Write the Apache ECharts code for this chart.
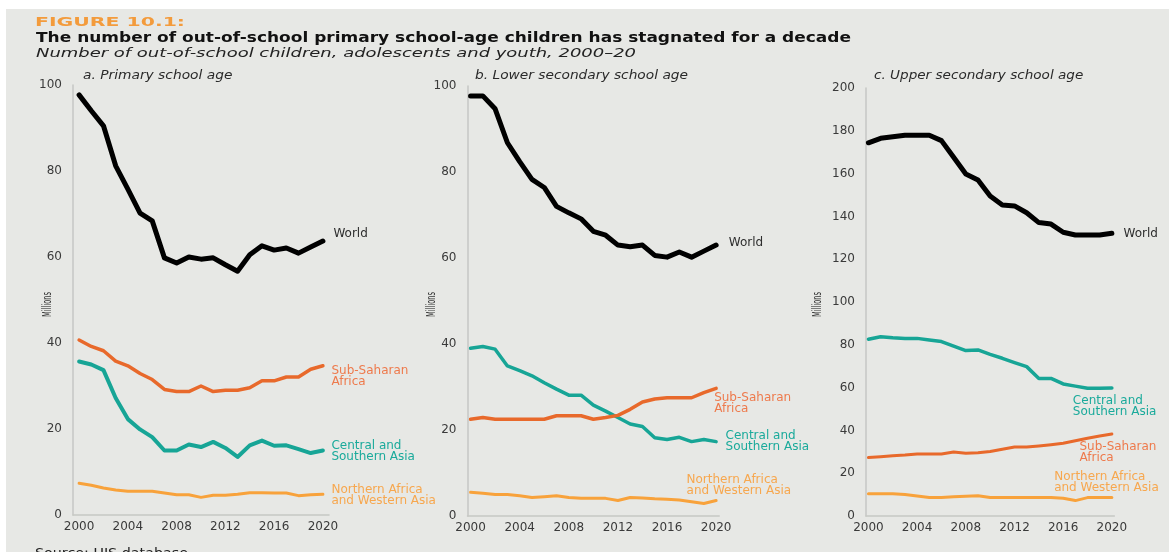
<!DOCTYPE html>
<html>
<head>
<meta charset="utf-8">
<script src="https://cdn.jsdelivr.net/npm/echarts@6/dist/echarts.min.js"></script>
<style>
html,body{margin:0;padding:0;background:#ffffff;width:1169px;height:552px;overflow:hidden}
#bg{position:absolute;left:6px;top:9px;right:0;bottom:0;background:#e7e8e5}
#chart{position:absolute;left:0;top:0;width:1169px;height:552px}
</style>
</head>
<body>
<div id="bg"></div>
<div id="chart"></div>
<script>
// ---------------- DATA ----------------
const years = [2000,2001,2002,2003,2004,2005,2006,2007,2008,2009,2010,2011,2012,2013,2014,2015,2016,2017,2018,2019,2020];
const xTickYears = [2000,2004,2008,2012,2016,2020];

// a. Primary school age (millions)
const worldA = [97.7,94.0,90.5,81.2,75.8,70.2,68.4,59.8,58.6,60.0,59.5,59.8,58.2,56.7,60.5,62.6,61.6,62.1,60.9,62.3,63.7];
const ssaA   = [40.7,39.2,38.2,35.8,34.7,32.9,31.5,29.2,28.7,28.7,30.0,28.7,29.0,29.0,29.6,31.2,31.2,32.1,32.1,33.9,34.7];
const csaA   = [35.7,35.0,33.7,27.2,22.3,19.9,18.1,15.0,15.0,16.4,15.8,17.0,15.6,13.5,16.2,17.3,16.1,16.2,15.3,14.4,15.0];
const nawaA  = [7.4,6.9,6.3,5.8,5.5,5.5,5.5,5.1,4.7,4.7,4.1,4.6,4.6,4.8,5.2,5.2,5.1,5.1,4.5,4.7,4.8];

// b. Lower secondary school age (millions)
const worldB = [97.7,97.7,94.7,86.8,82.4,78.3,76.4,72.0,70.5,69.1,66.2,65.3,63.0,62.6,63.0,60.6,60.2,61.4,60.2,61.6,63.0];
const ssaB   = [22.5,22.9,22.5,22.5,22.5,22.5,22.5,23.3,23.3,23.3,22.5,22.9,23.4,24.8,26.5,27.2,27.5,27.5,27.5,28.7,29.7];
const csaB   = [39.0,39.4,38.8,34.9,33.8,32.6,31.0,29.5,28.1,28.1,25.8,24.4,22.9,21.4,20.8,18.2,17.8,18.3,17.3,17.8,17.3];
const nawaB  = [5.5,5.3,5.0,5.0,4.7,4.3,4.5,4.7,4.3,4.1,4.1,4.1,3.6,4.3,4.2,4.0,3.9,3.7,3.3,2.9,3.6];

// c. Upper secondary school age (millions)
const worldC = [174.4,176.5,177.2,177.9,177.9,177.9,175.4,167.6,159.8,157.0,149.5,145.3,144.9,141.7,137.1,136.4,132.6,131.3,131.3,131.3,132.1];
const csaC   = [82.6,83.8,83.3,83.0,83.0,82.2,81.5,79.4,77.3,77.6,75.5,73.7,71.7,69.8,64.3,64.3,61.7,60.7,59.7,59.7,59.8];
const ssaC   = [27.3,27.7,28.2,28.5,29.0,29.0,29.0,29.9,29.3,29.6,30.1,31.2,32.2,32.2,32.7,33.3,34.0,35.2,36.3,37.4,38.3];
const nawaC  = [10.4,10.4,10.4,10.0,9.3,8.6,8.7,9.0,9.2,9.5,8.6,8.6,8.6,8.6,8.6,8.6,8.3,7.2,8.6,8.6,8.6];

const seriesLabels = {
  world: 'World',
  ssa: 'Sub-Saharan\nAfrica',
  csa: 'Central and\nSouthern Asia',
  nawa: 'Northern Africa\nand Western Asia'
};
const panelTitles = ['a. Primary school age', 'b. Lower secondary school age', 'c. Upper secondary school age'];
const figureLabel = 'FIGURE 10.1:';
const titleText = 'The number of out-of-school primary school-age children has stagnated for a decade';
const subtitleText = 'Number of out-of-school children, adolescents and youth, 2000–20';
const sourceText = 'Source: UIS database';
const yAxisName = 'Millions';

// ---------------- STYLE / LAYOUT ----------------
const lineColors  = {world:'#000000', ssa:'#e8692b', csa:'#17a596', nawa:'#f8a23b'};
const labelColors = {world:'#2e2e2e', ssa:'#ee7a4c', csa:'#1aaa9b', nawa:'#f7a74e'};
const axisColor = '#c6c7c4';
const tickFont = 'DejaVu Sans';

const panels = [
  { grid:{left:73, top:85, width:256, height:430}, xMin:1999.5, xMax:2020.5, yMax:100,
    data:{nawa:nawaA, csa:csaA, ssa:ssaA, world:worldA},
    widths:{world:5, ssa:3.5, csa:4, nawa:3},
    labelOff:{world:[10.5,-7], ssa:[8.5,11], csa:[8.5,1], nawa:[8.5,1.5]},
    title:{x:83, y:75.5, w:149.4}, unit:{x:47.5, y:304.5} },
  { grid:{left:467.5, top:86, width:251.7, height:430}, xMin:1999.75, xMax:2020.25, yMax:100,
    data:{nawa:nawaB, csa:csaB, ssa:ssaB, world:worldB},
    widths:{world:5, ssa:3.5, csa:3.5, nawa:3},
    labelOff:{world:[12.7,-2.5], ssa:[-2,15.4], csa:[9.4,-0.4], nawa:[-29.6,-15]},
    title:{x:475, y:75.5, w:213}, unit:{x:431.7, y:304.5} },
  { grid:{left:866, top:88, width:248.3, height:428}, xMin:1999.8, xMax:2020.2, yMax:200,
    data:{nawa:nawaC, ssa:ssaC, csa:csaC, world:worldC},
    widths:{world:5, ssa:3, csa:3.5, nawa:3},
    labelOff:{world:[11.6,0.7], csa:[-39,18], ssa:[-32.4,18], nawa:[-57.7,-15.6]},
    title:{x:874, y:75.5, w:209.3}, unit:{x:817.5, y:304.5} }
];

// ---------------- BUILD ----------------
const chart = echarts.init(document.getElementById('chart'), null, {renderer:'canvas'});

const grids = [], xAxes = [], yAxes = [], series = [];
panels.forEach((p, i) => {
  grids.push(Object.assign({containLabel:false}, p.grid));
  xAxes.push({
    type:'value', gridIndex:i, min:p.xMin, max:p.xMax,
    axisLine:{show:true, onZero:true, lineStyle:{color:axisColor, width:1.5}},
    axisTick:{show:false}, splitLine:{show:false},
    axisLabel:{customValues:xTickYears, formatter:(v)=>String(v), color:'#3a3a3a',
               fontSize:12, fontFamily:tickFont, margin:6}
  });
  yAxes.push({
    type:'value', gridIndex:i, min:0, max:p.yMax, interval:20,
    axisLine:{show:true, lineStyle:{color:axisColor, width:1.5}},
    axisTick:{show:false}, splitLine:{show:false},
    axisLabel:{color:'#3a3a3a', fontSize:12, fontFamily:tickFont, margin:11, padding:[4,0,0,0]}
  });
  Object.keys(p.data).forEach(k => {
    series.push({
      type:'line', name:k + i, xAxisIndex:i, yAxisIndex:i,
      data: years.map((y, j) => [y, p.data[k][j]]),
      showSymbol:false, symbol:'none', smooth:false,
      lineStyle:{color:lineColors[k], width:p.widths[k], cap:'round', join:'round'},
      itemStyle:{color:lineColors[k]},
      z: k === 'world' ? 5 : 3
    });
  });
});

chart.setOption({
  animation:false,
  backgroundColor:'transparent',
  grid:grids, xAxis:xAxes, yAxis:yAxes, series:series
});

// text helpers
const mctx = document.createElement('canvas').getContext('2d');
function fitScale(text, font, width){ mctx.font = font; return width / mctx.measureText(text).width; }
function fitText(text, font, x, y, width, fill, va){
  return {type:'text', x:x, y:y, scaleX:fitScale(text, font, width), silent:true,
          style:{text:text, font:font, fill:fill, verticalAlign:va || 'middle', align:'left'}};
}

const graphics = [];
graphics.push(fitText(figureLabel, 'bold 12px "DejaVu Sans"', 35, 23, 150, '#f39b3c'));
graphics.push(fitText(titleText, 'bold 14px "DejaVu Sans"', 36, 38.5, 815, '#111111'));
graphics.push(fitText(subtitleText, 'italic 13px "DejaVu Sans"', 36, 54, 600, '#222222'));
panels.forEach((p, i) => {
  graphics.push(fitText(panelTitles[i], 'italic 12px "DejaVu Sans"', p.title.x, p.title.y, p.title.w, '#2a2a2a'));
  // rotated unit label ("Millions"), condensed
  const uf = '12px "Liberation Sans Narrow", "DejaVu Sans Condensed", sans-serif';
  graphics.push({type:'text', x:p.unit.x, y:p.unit.y, rotation:Math.PI/2,
    scaleX:fitScale(yAxisName, uf, 25), silent:true,
    style:{text:yAxisName, font:uf, fill:'#333333', align:'center', verticalAlign:'middle'}});
});
graphics.push(fitText(sourceText, '13px "DejaVu Sans"', 35, 553.5, 153, '#222222'));

// series end labels anchored to the last data point
panels.forEach((p, i) => {
  Object.keys(p.labelOff).forEach(k => {
    const arr = p.data[k];
    const last = arr.length - 1;
    const pt = chart.convertToPixel({gridIndex:i}, [years[last], arr[last]]);
    graphics.push({type:'text', silent:true,
      x: pt[0] + p.labelOff[k][0], y: pt[1] + p.labelOff[k][1],
      style:{text:seriesLabels[k], font:'12px "DejaVu Sans"', fill:labelColors[k],
             verticalAlign:'middle', align:'left', lineHeight:11}});
  });
});

chart.setOption({graphic:graphics});
</script>
</body>
</html>
